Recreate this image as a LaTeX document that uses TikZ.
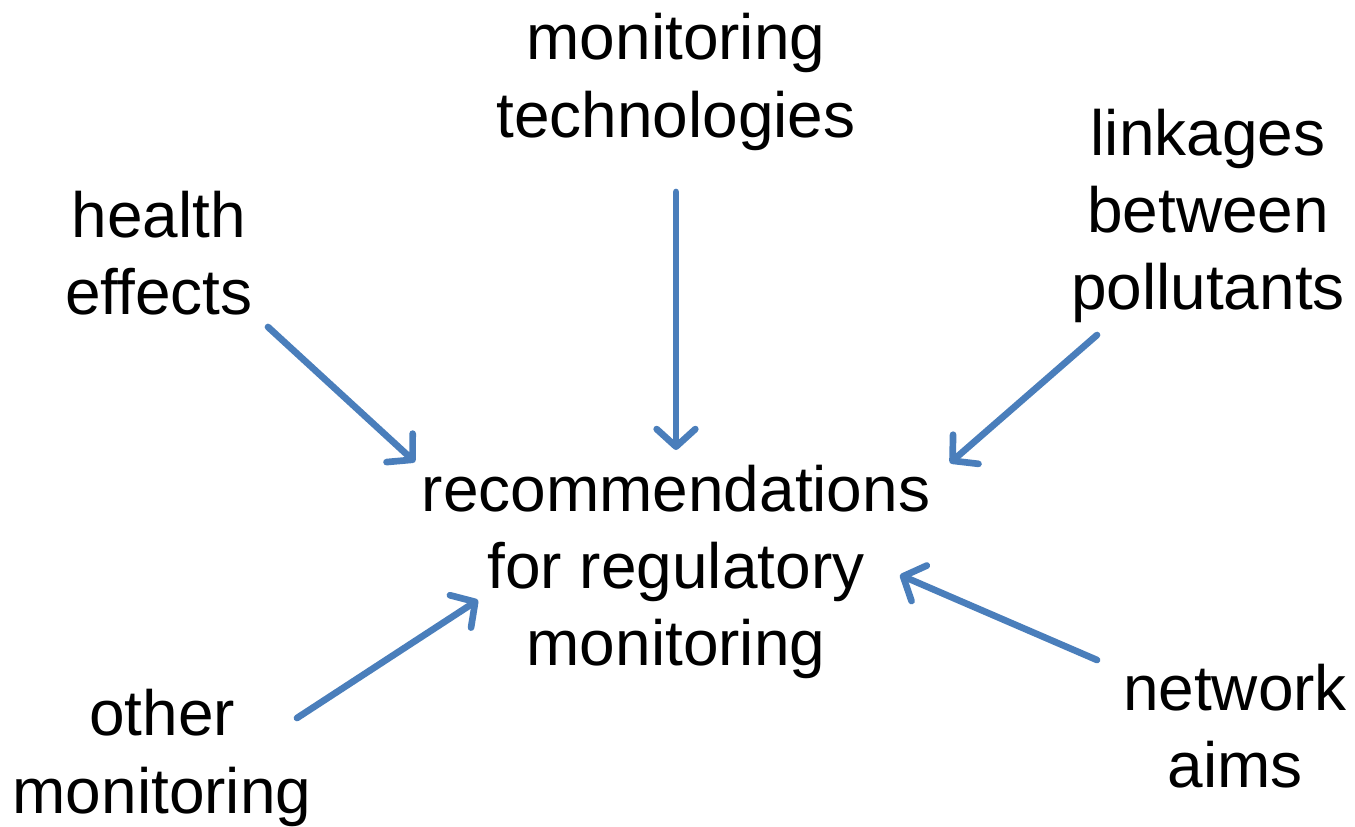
\documentclass[tikz,border=0pt]{standalone}
\usepackage{fontspec}
\setmainfont{Liberation Sans}
\usetikzlibrary{arrows.meta}

\begin{document}
\begin{tikzpicture}[x=0.02cm,y=-0.02cm,
		topic/.style={align=center,inner sep=0pt,font=\fontsize{36.4}{44}\selectfont},
		feed/.style={draw={rgb,255:red,74;green,126;blue,187},line width=3.8pt,line cap=round,
			-{Straight Barb[length=10pt,width=22pt,line cap=round,line join=round]}}]
		\useasboundingbox (0,0) rectangle (1355,827);
		\node[topic] (rec) at (676,572) {recommendations\\for regulatory\\monitoring};
		\node[topic] (tech) at (676,82) {monitoring\\technologies};
		\node[topic] (hlth) at (159,253) {health\\effects};
		\node[topic] (link) at (1208,216) {linkages\\between\\pollutants};
		\node[topic] (oth) at (162,758) {other\\monitoring};
		\node[topic] (net) at (1235,726) {network\\aims};
		% arrow ends
		\coordinate (tech-e) at (676,192);
		\coordinate (rec-n) at (676,450);
		\coordinate (hlth-e) at (268,327);
		\coordinate (rec-nw) at (415,462);
		\coordinate (link-e) at (1097,335);
		\coordinate (rec-ne) at (950,463);
		\coordinate (net-e) at (1097,660);
		\coordinate (rec-se) at (900,575);
		\coordinate (oth-e) at (297,718);
		\coordinate (rec-sw) at (478,600);
		\draw[feed] (tech-e) -- (rec-n);
		\draw[feed] (hlth-e) -- (rec-nw);
		\draw[feed] (link-e) -- (rec-ne);
		\draw[feed] (net-e) -- (rec-se);
		\draw[feed] (oth-e) -- (rec-sw);
	\end{tikzpicture}
\end{document}
